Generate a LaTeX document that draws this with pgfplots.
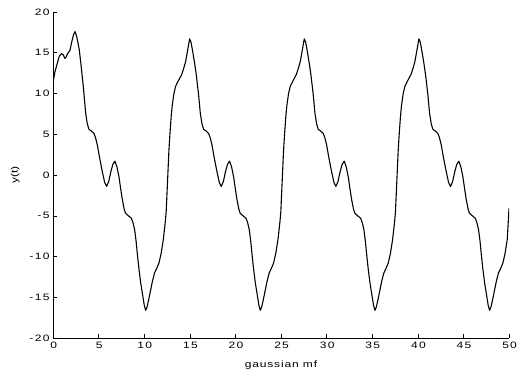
\documentclass[border=0pt]{standalone}
\usepackage{fontspec}
\setmainfont{Liberation Sans}
\newfontfamily\tickfont[FakeStretch=1.3,LetterSpace=14]{Liberation Sans}
\newfontfamily\labfont[FakeStretch=1.3,LetterSpace=9]{Liberation Sans}
\newfontfamily\ylabfont[FakeStretch=1.3]{Liberation Sans}
\usepackage{pgfplots}
\pgfplotsset{compat=1.18}
\begin{document}
\begin{tikzpicture}
\begin{axis}[
  name=ax,
  width=456bp, height=326bp, scale only axis,
  xmin=0, xmax=50, ymin=-20, ymax=20,
  axis lines*=left,
  xtick={0,5,...,50}, ytick={-20,-15,...,20},
  tick align=inside, xtick pos=left, ytick pos=left,
  major tick length=4bp,
  tick style={black, line width=0.5bp},
  axis line style={black, line width=0.6bp},
  /pgf/number format/assume math mode=true,
  tick label style={font=\tickfont\fontsize{9.3}{10}\selectfont},
  xticklabel style={yshift=-1bp, xshift=0.6bp},
  yticklabel style={xshift=0bp},
  xlabel={\labfont\fontsize{9.3}{10}\selectfont gaussian mf},
  ylabel={\ylabfont\fontsize{9.3}{10}\selectfont y(t)},
  xlabel style={at={(axis description cs:0.5,-0.083)}, anchor=center},
  ylabel style={at={(axis description cs:-0.083,0.5)}, anchor=center},
]
\addplot[black, line width=1.1bp, line join=round] coordinates {
(0.00,11.3) (0.20,12.6) (0.47,13.7) (0.70,14.6) (0.95,14.9) (1.15,14.7) (1.30,14.3) (1.45,14.5) (1.60,14.9) (1.86,15.3) (2.05,16.3) (2.25,17.2) (2.41,17.6) (2.60,17.0) (2.88,15.4) (3.10,13.2) (3.32,10.9)
(3.58,7.6) (3.76,6.3) (3.94,5.6) (4.21,5.4) (4.49,5.1) (4.66,4.6) (4.86,3.7) (5.11,2.1) (5.41,0.4) (5.66,-0.9) (5.88,-1.4) (6.11,-0.8) (6.32,0.3) (6.56,1.3) (6.79,1.7) (7.01,1.0) (7.23,-0.2) (7.41,-1.6) (7.60,-3.0) (7.81,-4.2) (7.96,-4.7) (8.26,-5.0) (8.59,-5.3) (8.76,-5.8) (8.95,-6.7) (9.11,-8.1) (9.24,-9.6) (9.41,-11.4) (9.61,-13.2) (9.81,-14.6) (10.01,-16.0) (10.16,-16.6) (10.31,-16.2) (10.51,-15.2) (10.71,-14.1) (10.91,-13.0) (11.14,-12.0) (11.36,-11.5) (11.62,-10.8) (11.86,-9.6) (12.10,-7.9) (12.31,-5.8) (12.41,-4.5) (12.51,-2.0) (12.61,0.5) (12.71,3.0) (12.82,5.0) (12.96,7.2) (13.08,8.6) (13.26,10.0) (13.45,10.9) (13.76,11.6) (14.10,12.3) (14.31,13.0) (14.54,13.9) (14.76,15.3)
(14.98,16.7) (15.13,16.3) (15.31,15.2) (15.53,13.7) (15.71,12.3) (15.96,9.9) (16.15,7.6) (16.33,6.3) (16.51,5.6) (16.78,5.4) (17.06,5.1) (17.23,4.6) (17.43,3.7) (17.68,2.1) (17.98,0.4) (18.23,-0.9) (18.45,-1.4) (18.68,-0.8) (18.89,0.3) (19.13,1.3) (19.36,1.7) (19.58,1.0) (19.80,-0.2) (19.98,-1.6) (20.17,-3.0) (20.38,-4.2) (20.53,-4.7) (20.83,-5.0) (21.16,-5.3) (21.33,-5.8) (21.52,-6.7) (21.68,-8.1) (21.81,-9.6) (21.98,-11.4) (22.18,-13.2) (22.38,-14.6) (22.58,-16.0) (22.73,-16.6) (22.88,-16.2) (23.08,-15.2) (23.28,-14.1) (23.48,-13.0) (23.71,-12.0) (23.93,-11.5) (24.19,-10.8) (24.43,-9.6) (24.67,-7.9) (24.88,-5.8) (24.98,-4.5) (25.08,-2.0) (25.18,0.5) (25.28,3.0) (25.39,5.0) (25.53,7.2) (25.65,8.6) (25.83,10.0) (26.02,10.9) (26.33,11.6) (26.67,12.3) (26.88,13.0) (27.11,13.9) (27.33,15.3)
(27.55,16.7) (27.70,16.3) (27.88,15.2) (28.10,13.7) (28.28,12.3) (28.53,9.9) (28.72,7.6) (28.90,6.3) (29.08,5.6) (29.35,5.4) (29.63,5.1) (29.80,4.6) (30.00,3.7) (30.25,2.1) (30.55,0.4) (30.80,-0.9) (31.02,-1.4) (31.25,-0.8) (31.46,0.3) (31.70,1.3) (31.93,1.7) (32.15,1.0) (32.37,-0.2) (32.55,-1.6) (32.74,-3.0) (32.95,-4.2) (33.10,-4.7) (33.40,-5.0) (33.73,-5.3) (33.90,-5.8) (34.09,-6.7) (34.25,-8.1) (34.38,-9.6) (34.55,-11.4) (34.75,-13.2) (34.95,-14.6) (35.15,-16.0) (35.30,-16.6) (35.45,-16.2) (35.65,-15.2) (35.85,-14.1) (36.05,-13.0) (36.28,-12.0) (36.50,-11.5) (36.76,-10.8) (37.00,-9.6) (37.24,-7.9) (37.45,-5.8) (37.55,-4.5) (37.65,-2.0) (37.75,0.5) (37.85,3.0) (37.96,5.0) (38.10,7.2) (38.22,8.6) (38.40,10.0) (38.59,10.9) (38.90,11.6) (39.24,12.3) (39.45,13.0) (39.68,13.9) (39.90,15.3)
(40.12,16.7) (40.27,16.3) (40.45,15.2) (40.67,13.7) (40.85,12.3) (41.10,9.9) (41.29,7.6) (41.47,6.3) (41.65,5.6) (41.92,5.4) (42.20,5.1) (42.37,4.6) (42.57,3.7) (42.82,2.1) (43.12,0.4) (43.37,-0.9) (43.59,-1.4) (43.82,-0.8) (44.03,0.3) (44.27,1.3) (44.50,1.7) (44.72,1.0) (44.94,-0.2) (45.12,-1.6) (45.31,-3.0) (45.52,-4.2) (45.67,-4.7) (45.97,-5.0) (46.30,-5.3) (46.47,-5.8) (46.66,-6.7) (46.82,-8.1) (46.95,-9.6) (47.12,-11.4) (47.32,-13.2) (47.52,-14.6) (47.72,-16.0) (47.87,-16.6) (48.02,-16.2) (48.22,-15.2) (48.42,-14.1) (48.62,-13.0) (48.85,-12.0) (49.07,-11.5) (49.33,-10.8) (49.57,-9.6) (49.81,-7.9) (50.00,-4.1)
};
\end{axis}
\pgfresetboundingbox
\path ([xshift=-53bp,yshift=-39bp]ax.south west) rectangle ([xshift=10bp,yshift=12bp]ax.north east);
\end{tikzpicture}
\end{document}
